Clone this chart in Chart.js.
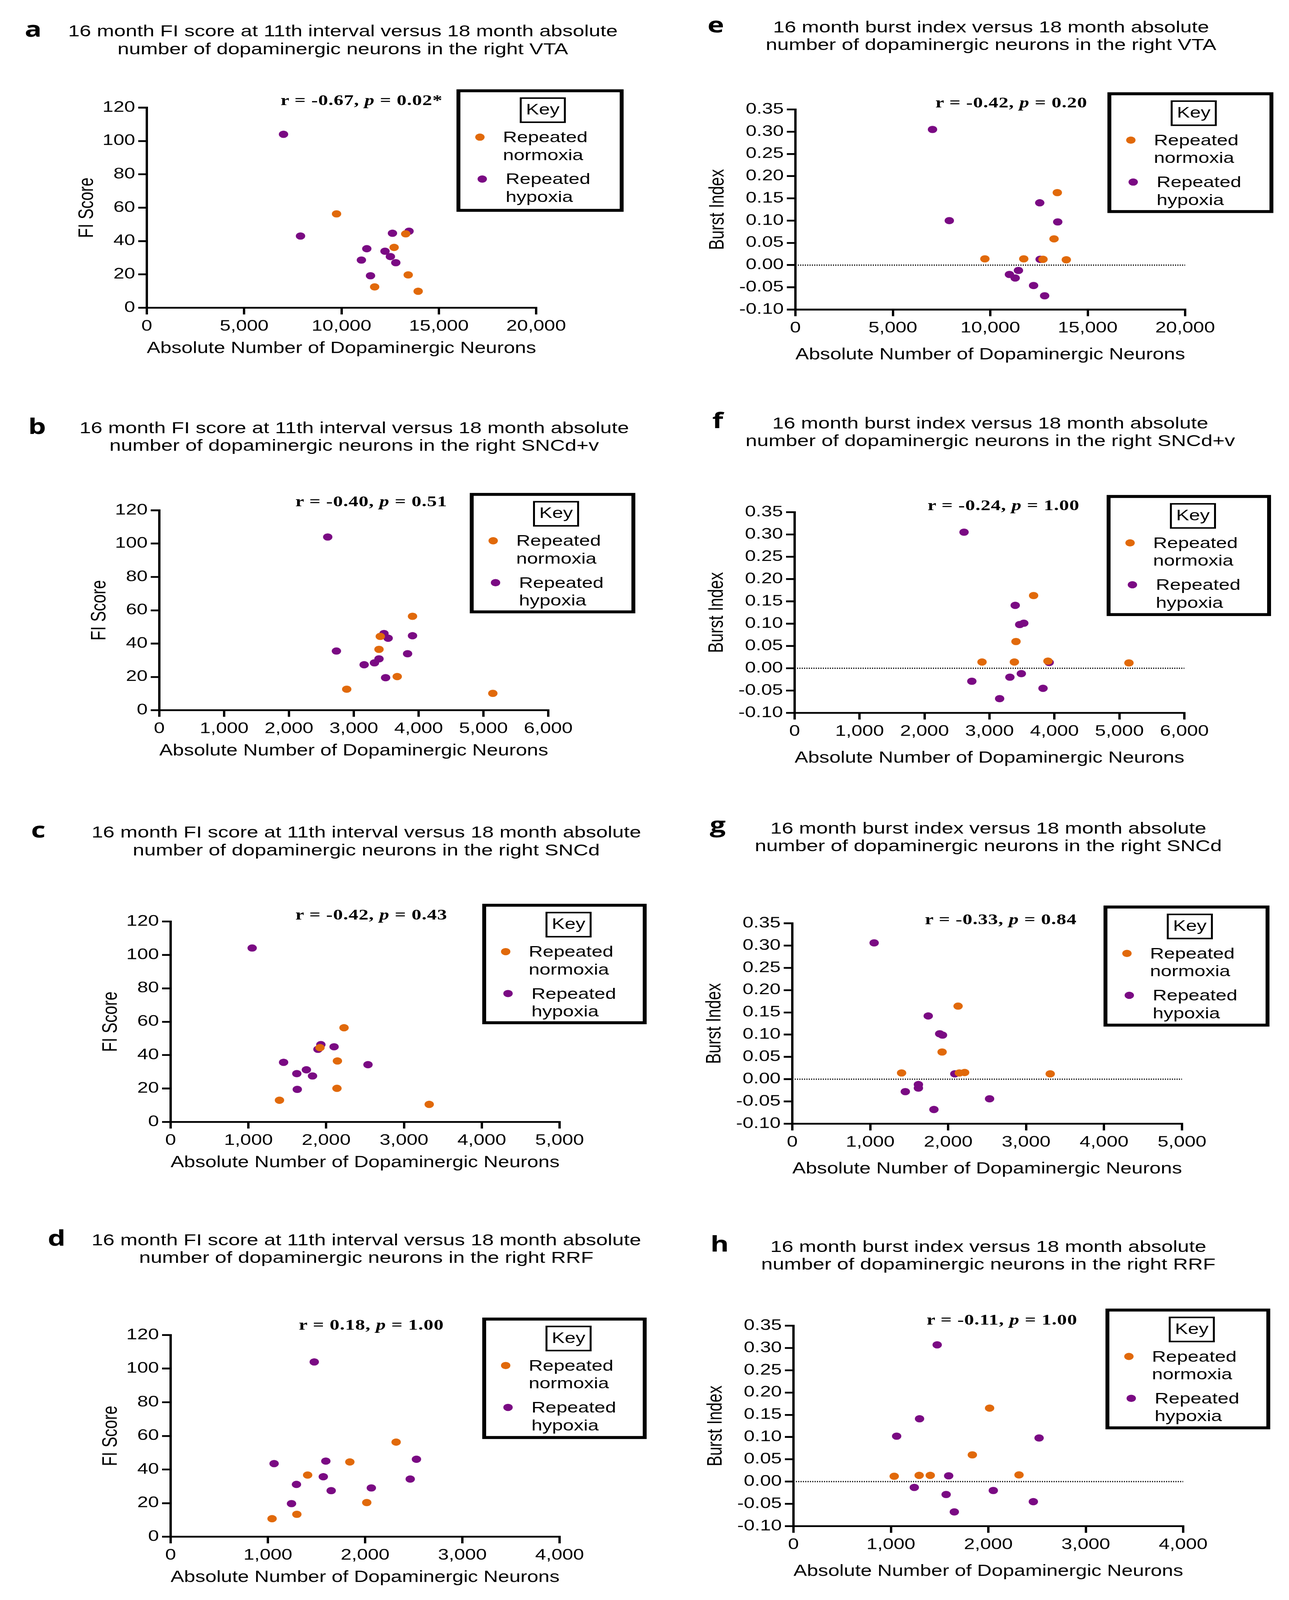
<!DOCTYPE html>
<html>
<head>
<meta charset="utf-8">
<title>FI score and burst index versus dopaminergic neurons</title>
<script src="https://cdn.jsdelivr.net/npm/chart.js@4.4.1/dist/chart.umd.min.js"></script>
<style>
  html, body { margin: 0; padding: 0; background: #fff; overflow: hidden; }
  #page { position: relative; width: 3301px; height: 5308px; transform-origin: 0 0;
          font-family: "Liberation Sans", Arial, sans-serif; color: #000; background: #fff; }
  canvas { position: absolute; }
  .txt { position: absolute; white-space: pre; }
  .letter { font-family: "Open Sans", sans-serif; font-weight: 700; font-size: 72px; line-height: 72px;
            width: 200px; text-align: center; }
  .title { font-size: 53px; line-height: 59px; width: 2000px; text-align: center; }
  .stat { font-family: "Liberation Serif", "Times New Roman", serif; font-weight: 700; font-size: 50px;
          line-height: 50px; width: 1000px; text-align: center; letter-spacing: 1px; }
  .key { position: absolute; }
  .key .frame { position: absolute; left: 0; top: 0; right: 0; bottom: 0; border: 10px solid #000; }
  .key .kbox { position: absolute; left: 162px; top: 27px; width: 118px; height: 85px;
               box-sizing: border-box; border: 5px solid #000; }
  .key .ktxt { position: absolute; left: 121px; width: 200px; top: 42px; text-align: center;
               font-size: 50px; line-height: 50px; }
  .key .dot { position: absolute; width: 24px; height: 24px; border-radius: 50%; }
  .key .lab { position: absolute; font-size: 50px; line-height: 59px; white-space: pre; }
</style>
</head>
<body>
<div id="page"></div>
<script>
// ---------- data ----------

var fiTicks = [0, 20, 40, 60, 80, 100, 120];
var burstTicks = [-0.10, -0.05, 0, 0.05, 0.10, 0.15, 0.20, 0.25, 0.30, 0.35];
var vtaTicks = [0, 5000, 10000, 15000, 20000];
var sncdvTicks = [0, 1000, 2000, 3000, 4000, 5000, 6000];
var sncdTicks = [0, 1000, 2000, 3000, 4000, 5000];
var rrfTicks = [0, 1000, 2000, 3000, 4000];

// a - FI score vs right VTA
var aNormX = [9746, 13300, 12704, 13428, 11704, 13939];
var aNormY = [56.3, 44.3, 36.2, 19.7, 12.5, 9.9];
var aHypX = [7022, 7895, 12619, 13470, 11300, 12236, 12513, 11023, 12790, 11491];
var aHypY = [104.0, 43.0, 44.7, 45.9, 35.4, 33.9, 30.7, 28.6, 27.0, 19.2];

// b - FI score vs right SNCd+v
var bNormX = [3906, 3409, 3389, 3670, 2891, 5145];
var bNormY = [56.4, 44.3, 36.5, 20.2, 12.6, 10.1];
var bHypX = [2598, 2732, 3160, 3319, 3389, 3466, 3530, 3491, 3830, 3906];
var bHypY = [104.0, 35.5, 27.3, 28.4, 30.8, 46.0, 43.2, 19.5, 33.9, 44.7];

// c - FI score vs right SNCd
var cNormX = [2229, 1920, 2144, 2138, 1399, 3324];
var cNormY = [56.4, 44.5, 36.5, 20.1, 13.0, 10.5];
var cHypX = [1048, 1452, 1622, 1745, 1824, 1628, 1894, 1931, 2101, 2537];
var cHypY = [104.1, 35.7, 28.9, 31.2, 27.5, 19.5, 43.5, 46.3, 45.0, 34.3];

// d - FI score vs right RRF
var dNormX = [2319, 1843, 1409, 2017, 1298, 1043];
var dNormY = [56.3, 44.5, 36.7, 20.3, 13.3, 10.7];
var dHypX = [1477, 1064, 1596, 2528, 1570, 1294, 1651, 2064, 2464, 1243];
var dHypY = [104.0, 43.5, 45.0, 46.1, 35.7, 31.1, 27.4, 29.0, 34.3, 19.7];

// e - burst index vs right VTA
var eNormX = [13440, 13272, 9723, 11718, 12705, 13902];
var eNormY = [0.163, 0.059, 0.014, 0.014, 0.013, 0.012];
var eHypX = [7035, 7897, 12538, 13462, 12559, 11445, 10983, 11277, 12222, 12790];
var eHypY = [0.305, 0.100, 0.140, 0.097, 0.013, -0.012, -0.021, -0.029, -0.046, -0.069];

// f - burst index vs right SNCd+v
var fNormX = [3679, 3408, 2885, 3383, 3900, 5147];
var fNormY = [0.163, 0.060, 0.014, 0.014, 0.016, 0.012];
var fHypX = [2608, 3396, 3465, 3528, 3919, 3490, 3314, 2728, 3824, 3156];
var fHypY = [0.305, 0.141, 0.098, 0.101, 0.013, -0.012, -0.020, -0.029, -0.045, -0.068];

// g - burst index vs right SNCd
var gNormX = [2127, 1922, 1402, 2143, 2211, 3309];
var gNormY = [0.164, 0.061, 0.014, 0.014, 0.015, 0.012];
var gHypX = [1050, 1744, 1891, 1927, 2085, 1618, 1618, 1450, 2531, 1817];
var gHypY = [0.306, 0.142, 0.102, 0.099, 0.012, -0.012, -0.020, -0.028, -0.044, -0.068];

// h - burst index vs right RRF
var hNormX = [2013, 1836, 1034, 1290, 1404, 2315];
var hNormY = [0.165, 0.060, 0.012, 0.014, 0.014, 0.015];
var hHypX = [1475, 1294, 1059, 2521, 1593, 1240, 2051, 1567, 2462, 1651];
var hHypY = [0.307, 0.141, 0.102, 0.098, 0.013, -0.013, -0.020, -0.029, -0.045, -0.068];

var statR = ['-0.67', '-0.40', '-0.42', '0.18', '-0.42', '-0.24', '-0.33', '-0.11'];
var statP = ['0.02*', '0.51', '0.43', '1.00', '0.20', '1.00', '0.84', '1.00'];

// ---------- look ----------
var ORANGE = '#E1690A';
var PURPLE = '#7A0A83';
var FONT = '"Liberation Sans", Arial, sans-serif';

var fiTitle = '16 month FI score at 11th interval versus 18 month absolute\nnumber of dopaminergic neurons in the right ';
var burstTitle = '16 month burst index versus 18 month absolute\nnumber of dopaminergic neurons in the right ';

// layout of every panel (pixels on the 3301 x 5308 page)
var panels = [
  { letter: 'a', lx: 85, lb: 122, tx: 878, tb: 120, sx: 926, sb: 348, key: [1169, 296, 428, 407],
    area: [376, 357, 1373, 1021], kind: 'fi', region: 'VTA', xTicks: vtaTicks,
    nx: aNormX, ny: aNormY, hx: aHypX, hy: aHypY, s: 0 },
  { letter: 'b', lx: 95, lb: 1440, tx: 907, tb: 1436, sx: 951, sb: 1679, key: [1203, 1635, 424, 400],
    area: [408, 1693, 1404, 2356], kind: 'fi', region: 'SNCd+v', xTicks: sncdvTicks,
    nx: bNormX, ny: bNormY, hx: bHypX, hy: bHypY, s: 1 },
  { letter: 'c', lx: 98, lb: 2778, tx: 938, tb: 2778, sx: 951, sb: 3051, key: [1235, 2998, 421, 400],
    area: [437, 3057, 1433, 3722], kind: 'fi', region: 'SNCd', xTicks: sncdTicks,
    nx: cNormX, ny: cNormY, hx: cHypX, hy: cHypY, s: 2 },
  { letter: 'd', lx: 145, lb: 4133, tx: 938, tb: 4130, sx: 951, sb: 4411, key: [1235, 4371, 421, 403],
    area: [437, 4429, 1433, 5098], kind: 'fi', region: 'RRF', xTicks: rrfTicks,
    nx: dNormX, ny: dNormY, hx: dHypX, hy: dHypY, s: 3 },
  { letter: 'e', lx: 1833, lb: 108, tx: 2538, tb: 106, sx: 2590, sb: 357, key: [2836, 306, 425, 401],
    area: [2037, 363, 3035, 1027], kind: 'burst', region: 'VTA', xTicks: vtaTicks,
    nx: eNormX, ny: eNormY, hx: eHypX, hy: eHypY, s: 4 },
  { letter: 'f', lx: 1838, lb: 1420, tx: 2536, tb: 1420, sx: 2570, sb: 1693, key: [2834, 1642, 421, 402],
    area: [2035, 1699, 3033, 2365], kind: 'burst', region: 'SNCd+v', xTicks: sncdvTicks,
    nx: fNormX, ny: fNormY, hx: fHypX, hy: fHypY, s: 5 },
  { letter: 'g', lx: 1838, lb: 2762, tx: 2531, tb: 2764, sx: 2563, sb: 3066, key: [2826, 3004, 425, 402],
    area: [2029, 3063, 3027, 3728], kind: 'burst', region: 'SNCd', xTicks: sncdTicks,
    nx: gNormX, ny: gNormY, hx: gHypX, hy: gHypY, s: 6 },
  { letter: 'h', lx: 1843, lb: 4152, tx: 2531, tb: 4152, sx: 2566, sb: 4394, key: [2831, 4341, 422, 401],
    area: [2032, 4398, 3030, 5063], kind: 'burst', region: 'RRF', xTicks: rrfTicks,
    nx: hNormX, ny: hNormY, hx: hHypX, hy: hHypY, s: 7 }
];

var page = document.getElementById('page');

// the window can come up shorter than the 5308 px figure: squeeze the page to fit it
var fitY = Math.min(1, (window.innerHeight || 5308) / 5308);
if (fitY < 1) page.style.transform = 'scale(1,' + fitY + ')';

// dotted line at burst index 0
var zeroLine = {
  id: 'zeroLine',
  beforeDatasetsDraw: function (chart, args, opts) {
    if (!opts.show) return;
    var y = chart.scales.y.getPixelForValue(0);
    var ctx = chart.ctx;
    ctx.save();
    ctx.strokeStyle = '#111';
    ctx.lineWidth = 4;
    ctx.setLineDash([3, 3]);
    ctx.beginPath();
    ctx.moveTo(chart.chartArea.left, y);
    ctx.lineTo(chart.chartArea.right, y);
    ctx.stroke();
    ctx.restore();
  }
};

function addText(cls, left, top, html) {
  var d = document.createElement('div');
  d.className = 'txt ' + cls;
  d.style.left = left + 'px';
  d.style.top = top + 'px';
  d.innerHTML = html;
  page.appendChild(d);
  return d;
}

function toPoints(xs, ys) {
  return xs.map(function (x, i) { return { x: x, y: ys[i] }; });
}

function addKey(k) {
  var box = document.createElement('div');
  box.className = 'key';
  box.style.left = k[0] + 'px';
  box.style.top = k[1] + 'px';
  box.style.width = k[2] + 'px';
  box.style.height = k[3] + 'px';
  box.innerHTML =
    '<div class="frame"></div>' +
    '<div class="kbox"></div>' +
    '<div class="ktxt">Key</div>' +
    '<div class="dot" style="left:48px;top:147px;background:' + ORANGE + '"></div>' +
    '<div class="lab" style="left:119px;top:130px">Repeated\nnormoxia</div>' +
    '<div class="dot" style="left:54px;top:286px;background:' + PURPLE + '"></div>' +
    '<div class="lab" style="left:126px;top:269px">Repeated\nhypoxia</div>';
  page.appendChild(box);
}

function makePanel(p) {
  var isFi = p.kind === 'fi';
  var yW = isFi ? 184 : 230;
  var xH = isFi ? 167 : 182;
  var padT = 45, padR = 95;
  var L = p.area[0], T = p.area[1], R = p.area[2], B = p.area[3];
  var w = R - L + yW + padR;
  var h = B - T + padT + xH;

  var cv = document.createElement('canvas');
  cv.width = w;
  cv.height = h;
  cv.style.left = (L - yW) + 'px';
  cv.style.top = (T - padT) + 'px';
  cv.style.width = w + 'px';
  cv.style.height = h + 'px';
  page.appendChild(cv);

  var yTicks = isFi ? fiTicks : burstTicks;

  var axisGrid = {
    drawOnChartArea: false, drawTicks: true, tickLength: 22,
    tickWidth: 6, tickColor: '#000', color: '#000', lineWidth: 6
  };

  new Chart(cv.getContext('2d'), {
    type: 'scatter',
    data: {
      datasets: [
        { label: 'Repeated normoxia', data: toPoints(p.nx, p.ny),
          backgroundColor: ORANGE, borderColor: ORANGE, borderWidth: 0, pointRadius: 12 },
        { label: 'Repeated hypoxia', data: toPoints(p.hx, p.hy),
          backgroundColor: PURPLE, borderColor: PURPLE, borderWidth: 0, pointRadius: 12 }
      ]
    },
    options: {
      responsive: false,
      animation: false,
      devicePixelRatio: 1,
      layout: { padding: { left: 0, top: padT, right: padR, bottom: 0 } },
      plugins: {
        legend: { display: false },
        tooltip: { enabled: false },
        zeroLine: { show: !isFi }
      },
      scales: {
        x: {
          type: 'linear',
          min: p.xTicks[0],
          max: p.xTicks[p.xTicks.length - 1],
          afterBuildTicks: function (s) { s.ticks = p.xTicks.map(function (v) { return { value: v }; }); },
          afterFit: function (s) { s.height = xH; },
          grid: axisGrid,
          border: { display: true, color: '#000', width: 6 },
          ticks: {
            color: '#000', padding: 10, maxRotation: 0, autoSkip: false,
            font: { family: FONT, size: 50 },
            callback: function (v) { return Number(v).toLocaleString('en-US'); }
          },
          title: {
            display: true, text: 'Absolute Number of Dopaminergic Neurons',
            color: '#000', padding: 0, font: { family: FONT, size: 53 }
          }
        },
        y: {
          type: 'linear',
          position: 'left',
          min: yTicks[0],
          max: yTicks[yTicks.length - 1],
          afterBuildTicks: function (s) { s.ticks = yTicks.map(function (v) { return { value: v }; }); },
          afterFit: function (s) { s.width = yW; },
          grid: axisGrid,
          border: { display: true, color: '#000', width: 6 },
          ticks: {
            color: '#000', padding: 8, autoSkip: false,
            font: { family: FONT, size: 50 },
            callback: function (v) { return isFi ? String(v) : Number(v).toFixed(2); }
          },
          title: {
            display: true, text: isFi ? 'FI Score' : 'Burst Index',
            color: '#000', padding: 0, font: { family: FONT, size: 53 }
          }
        }
      }
    },
    plugins: [zeroLine]
  });

  // panel letter, title, statistics and key (tops worked out from baselines)
  addText('letter', p.lx - 100, p.lb - 64, p.letter);
  addText('title', p.tx - 1000, p.tb - 47.5, (isFi ? fiTitle : burstTitle) + p.region);
  addText('stat', p.sx - 500, p.sb - 41.8,
    'r = ' + statR[p.s] + ', <i>p</i> = ' + statP[p.s]);
  addKey(p.key);
}

panels.forEach(makePanel);
</script>
</body>
</html>
